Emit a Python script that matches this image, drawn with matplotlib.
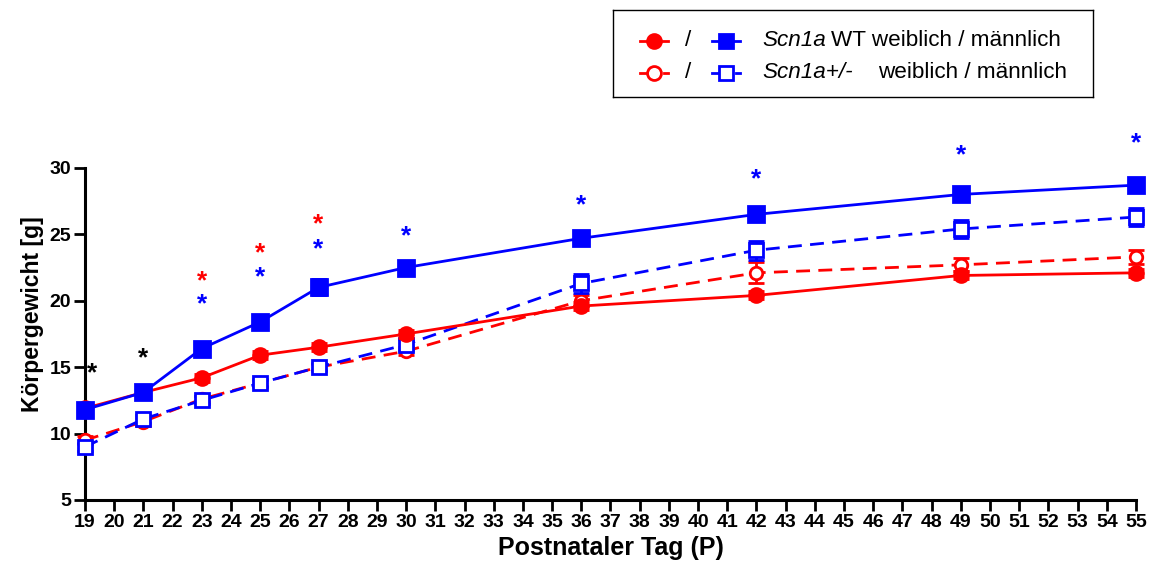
import matplotlib.pyplot as plt
from matplotlib.lines import Line2D

plt.rcParams['font.family'] = ['Liberation Sans', 'DejaVu Sans']

tage = [19, 21, 23, 25, 27, 30, 36, 42, 49, 55]

wt_w = [11.9, 13.1, 14.2, 15.9, 16.5, 17.5, 19.6, 20.4, 21.9, 22.1]
wt_w_sem = [0.3, 0.2, 0.3, 0.3, 0.3, 0.3, 0.3, 0.3, 0.3, 0.3]
wt_m = [11.8, 13.1, 16.4, 18.4, 21.0, 22.5, 24.7, 26.5, 28.0, 28.7]
wt_m_sem = [0.4, 0.3, 0.5, 0.4, 0.6, 0.5, 0.3, 0.4, 0.3, 0.3]
het_w = [9.5, 10.9, 12.6, 13.8, 15.0, 16.2, 20.0, 22.1, 22.7, 23.3]
het_w_sem = [0.3, 0.3, 0.2, 0.2, 0.2, 0.3, 0.4, 0.8, 0.5, 0.5]
het_m = [9.0, 11.1, 12.5, 13.8, 15.0, 16.7, 21.3, 23.8, 25.4, 26.3]
het_m_sem = [0.3, 0.3, 0.3, 0.3, 0.3, 0.4, 0.7, 0.7, 0.7, 0.7]

# significance stars: (day, height, colour)
sterne = [(19.25, 15.0, 'black'), (21, 16.1, 'black'),
          (23, 21.9, 'red'), (23, 20.2, 'blue'),
          (25, 24.0, 'red'), (25, 22.2, 'blue'),
          (27, 26.2, 'red'), (27, 24.3, 'blue'),
          (30, 25.3, 'blue'), (36, 27.6, 'blue'), (42, 29.6, 'blue'),
          (49, 31.4, 'blue'), (55, 32.3, 'blue')]

ROT = '#ff0000'
BLAU = '#0000ff'

fig = plt.figure(figsize=(11.53, 5.70), dpi=100)
ax = fig.add_axes([85 / 1153, 70 / 570, 1051 / 1153, 372 / 570])

def kurve(y, err, farbe, marker, ls, gefuellt, ms, z):
    ax.errorbar(tage, y, yerr=err, color=farbe, ls=ls, lw=2.0,
                marker=marker, ms=ms, mew=2.0,
                mfc=farbe if gefuellt else 'white', mec=farbe,
                elinewidth=2.0, capsize=6, capthick=2.5,
                dashes=(5, 3) if ls == '--' else (None, None),
                clip_on=False, zorder=z)

kurve(het_w, het_w_sem, ROT, 'o', '--', False, 9, 3)
kurve(het_m, het_m_sem, BLAU, 's', '--', False, 10, 4)
kurve(wt_w, wt_w_sem, ROT, 'o', '-', True, 10, 5)
kurve(wt_m, wt_m_sem, BLAU, 's', '-', True, 11, 6)

# the star glyph sits high in its line box, so nudge it down
for x, y, c in sterne:
    ax.text(x, y - 0.45, '*', color=c, fontsize=19, fontweight='bold',
            ha='center', va='center')

ax.set_xlim(19, 55)
ax.set_ylim(5, 33)
ax.set_xticks(range(19, 56))
ax.set_yticks([5, 10, 15, 20, 25, 30])
ax.spines['top'].set_visible(False)
ax.spines['right'].set_visible(False)
ax.spines['left'].set_bounds(5, 30)
for s in ('left', 'bottom'):
    ax.spines[s].set_linewidth(2.2)
ax.tick_params(axis='both', width=2.0, length=8, labelsize=14, pad=2)
for lab in ax.get_xticklabels() + ax.get_yticklabels():
    lab.set_fontweight('bold')
ax.set_xlabel('Postnataler Tag (P)', fontsize=18, fontweight='bold', labelpad=4)
ax.set_ylabel('Körpergewicht [g]', fontsize=16.5, fontweight='bold', labelpad=4)

# legend box drawn in pixel coordinates
lax = fig.add_axes([613 / 1153, 1 - 97 / 570, 480 / 1153, 87 / 570])
lax.set_xlim(613, 1093)
lax.set_ylim(97, 10)
lax.set_xticks([])
lax.set_yticks([])
for s in lax.spines.values():
    s.set_linewidth(1.0)

def eintrag(x0, y, farbe, marker, gefuellt, gestrichelt):
    if gestrichelt:
        lax.add_line(Line2D([x0, x0 + 8], [y, y], color=farbe, lw=2))
        lax.add_line(Line2D([x0 + 24, x0 + 28], [y, y], color=farbe, lw=2))
    else:
        lax.add_line(Line2D([x0, x0 + 28], [y, y], color=farbe, lw=2))
    lax.plot([x0 + 14], [y], marker=marker, ms=10, mew=2, color=farbe,
             mfc=farbe if gefuellt else 'white', mec=farbe)

eintrag(640, 41, ROT, 'o', True, False)
eintrag(712, 41, BLAU, 's', True, False)
eintrag(640, 73, ROT, 'o', False, True)
eintrag(712, 73, BLAU, 's', False, True)
fs = 16.2
for y in (41, 73):
    lax.text(688, y, '/', fontsize=fs, ha='center', va='center')
lax.text(762, 41, 'Scn1a', fontsize=fs, style='italic', va='center')
lax.text(831, 41, 'WT weiblich / männlich', fontsize=fs, va='center')
lax.text(762, 73, 'Scn1a+/-', fontsize=fs, style='italic', va='center')
lax.text(878, 73, 'weiblich / männlich', fontsize=fs, va='center')

fig.savefig('out.png', dpi=100)
